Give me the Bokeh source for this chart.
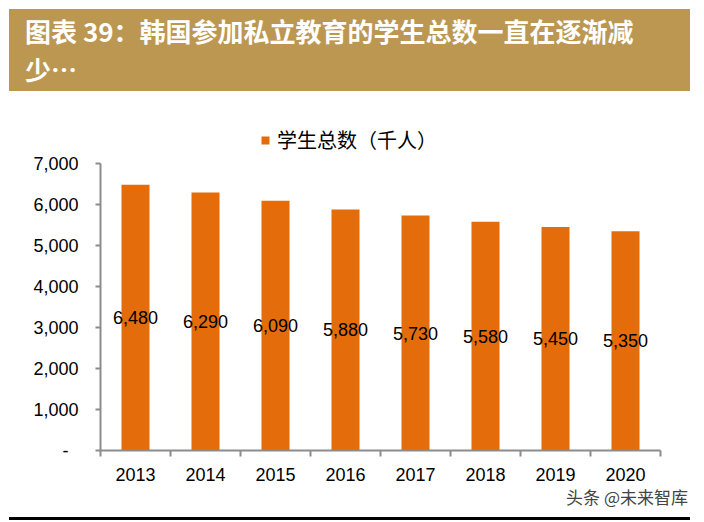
from bokeh.plotting import figure
from bokeh.models import (Div, Range1d, FixedTicker, NumeralTickFormatter, Legend,
                          LegendItem, ColumnDataSource)
from bokeh.layouts import column
from bokeh.core.properties import value
from bokeh.embed import file_html
from bokeh.resources import INLINE

# ---- data ----
years = ["2013", "2014", "2015", "2016", "2017", "2018", "2019", "2020"]
students = [6480, 6290, 6090, 5880, 5730, 5580, 5450, 5350]
y_ticks = [0, 1000, 2000, 3000, 4000, 5000, 6000, 7000]
title_text = "图表 39：韩国参加私立教育的学生总数一直在逐渐减"
title_text2 = "少…"
legend_text = "学生总数（千人）"
source_text = "头条 @未来智库"

ORANGE = "#E46C0A"
GOLD = "#BC9752"
AXIS = "#8C8C8C"

y_axis_max = y_ticks[-1]
# frame extends above the axis top to make room for the legend (325px frame vs 287px axis)
y_view_max = y_axis_max * 325 / 287

centers = [i + 0.5 for i in range(len(years))]
src = ColumnDataSource(dict(
    x=centers, top=students, mid=[v / 2 for v in students],
    lab=[f"{v:,}" for v in students]))

banner = Div(
    text=(f'<div style="margin:9px 0 0 9px;width:681px;height:82px;background:{GOLD};'
          'color:#ffffff;font-family:\'Noto Sans CJK SC\';font-weight:bold;font-size:26px;'
          'line-height:38px;padding:3px 0 0 16px;box-sizing:border-box;white-space:nowrap;">'
          f'{title_text}<br>{title_text2}</div>'),
    width=704, height=100, margin=(0, 0, 0, 0))

p = figure(width=704, height=390, x_range=Range1d(0, len(years)),
           y_range=Range1d(0, y_view_max),
           output_backend="svg", toolbar_location=None,
           min_border_left=100, min_border_right=44, min_border_top=25, min_border_bottom=40)
p.outline_line_color = None
p.xgrid.visible = False
p.ygrid.visible = False
p.background_fill_color = "white"
p.border_fill_color = "white"

bars = p.vbar(x="x", top="top", width=0.4, source=src, fill_color=ORANGE, line_color=None)
p.text(x="x", y="mid", text="lab", source=src, text_align="center", text_baseline="middle",
       text_font=value("Liberation Sans"), text_font_size="18px", text_color="black")

# y axis
ya = p.yaxis[0]
ya.bounds = (0, y_axis_max)
ya.ticker = FixedTicker(ticks=y_ticks)
ya.formatter = NumeralTickFormatter(format="0,0")
ya.major_label_overrides = {0: "-\u00a0\u00a0"}
ya.major_label_text_font = "Liberation Sans"
ya.major_label_text_font_size = "18px"
ya.major_label_text_color = "black"
ya.major_label_standoff = 17
ya.axis_line_color = AXIS
ya.axis_line_width = 2
ya.major_tick_line_color = AXIS
ya.major_tick_line_width = 2
ya.major_tick_in = 0
ya.major_tick_out = 5
ya.minor_tick_line_color = None

# x axis
xa = p.xaxis[0]
xa.ticker = FixedTicker(ticks=centers, minor_ticks=list(range(len(years) + 1)))
xa.major_label_overrides = {c: y for c, y in zip(centers, years)}
xa.major_label_text_font = "Liberation Sans"
xa.major_label_text_font_size = "18px"
xa.major_label_text_color = "black"
xa.major_label_standoff = 11
xa.axis_line_color = AXIS
xa.axis_line_width = 2
xa.major_tick_line_color = None
xa.minor_tick_line_color = AXIS
xa.minor_tick_line_width = 2
xa.minor_tick_in = 0
xa.minor_tick_out = 6

legend = Legend(items=[LegendItem(label=legend_text, renderers=[bars])],
                location=(160, 296), orientation="horizontal",
                glyph_width=10, glyph_height=10, label_standoff=7,
                padding=0, margin=0, border_line_alpha=0, background_fill_alpha=0,
                label_text_font="Noto Sans CJK SC", label_text_font_size="20px",
                label_text_color="black")
p.add_layout(legend, "center")

bottom = Div(
    text=('<div style="width:704px;height:32px;position:relative;">'
          '<div style="position:absolute;right:16px;top:-3px;font-family:\'Noto Sans CJK SC\';'
          'font-size:17px;line-height:20px;color:#444444;white-space:nowrap;">'
          f'{source_text}</div>'
          '<div style="position:absolute;left:9px;top:27px;width:681px;height:3px;'
          'background:#000;"></div></div>'),
    width=704, height=32, margin=(0, 0, 0, 0))

layout = column(banner, p, bottom, spacing=0)
open("out.html", "w").write(file_html(layout, INLINE))
